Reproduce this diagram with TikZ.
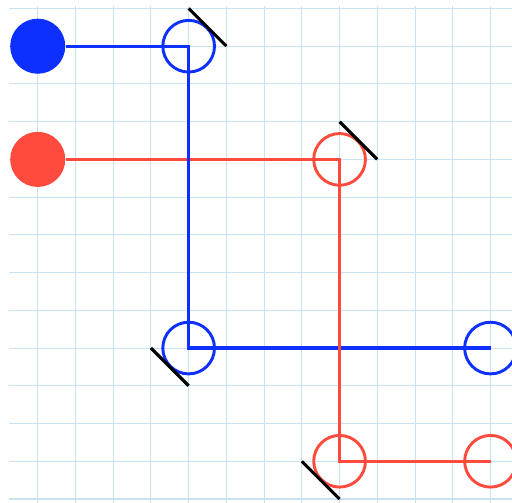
\documentclass[tikz,border=0pt]{standalone}
\usetikzlibrary{positioning}
\definecolor{beamblue}{RGB}{14,48,255}
\definecolor{beamred}{RGB}{255,75,62}
\definecolor{gridblue}{RGB}{200,228,242}

\begin{document}
\begin{tikzpicture}[
  source/.style={circle, fill=#1, minimum size=1.46cm, inner sep=0},
  splitter/.style={circle, draw=#1, line width=2.2pt, minimum size=1.37cm, inner sep=0},
  beam/.style={#1, line width=2.4pt},
  mirror/.style={black, line width=2.3pt},
  node distance=1cm, on grid
]
  \path[use as bounding box, clip] (0,-0.08) rectangle (13.57,13.225);

  \foreach \x in {1,...,13} \draw[gridblue, line width=0.8pt] (\x,-0.1) -- (\x,13.07);
  \foreach \y in {0,...,13} \draw[gridblue, line width=0.8pt] (0.24,\y) -- (13.6,\y);

  \node[source=beamblue] (srcB) at (1,12) {};
  \node[source=beamred, below=3 of srcB] (srcR) {};
  \node[splitter=beamblue, right=4 of srcB] (mB1) {};
  \node[splitter=beamblue, below=8 of mB1] (mB2) {};
  \node[splitter=beamblue, right=8 of mB2] (detB) {};
  \node[splitter=beamred, right=8 of srcR] (mR1) {};
  \node[splitter=beamred, below=8 of mR1] (mR2) {};
  \node[splitter=beamred, right=4 of mR2] (detR) {};

  \draw[beam=beamred] (srcR.east) -- (mR1.center) -- (mR2.center) -- (detR.center);
  \draw[beam=beamblue] (srcB.east) -- (mB1.center) -- (mB2.center) -- (detB.center);
  \draw[beam=beamred] (mR1.center) -- (mR2.center);

  \draw[mirror] ([yshift=1cm]mB1.center) -- ([xshift=1cm]mB1.center);
  \draw[mirror] ([yshift=1cm]mR1.center) -- ([xshift=1cm]mR1.center);
  \draw[mirror] ([xshift=-1cm]mB2.center) -- ([yshift=-1cm]mB2.center);
  \draw[mirror] ([xshift=-1cm]mR2.center) -- ([yshift=-1cm]mR2.center);
\end{tikzpicture}
\end{document}
